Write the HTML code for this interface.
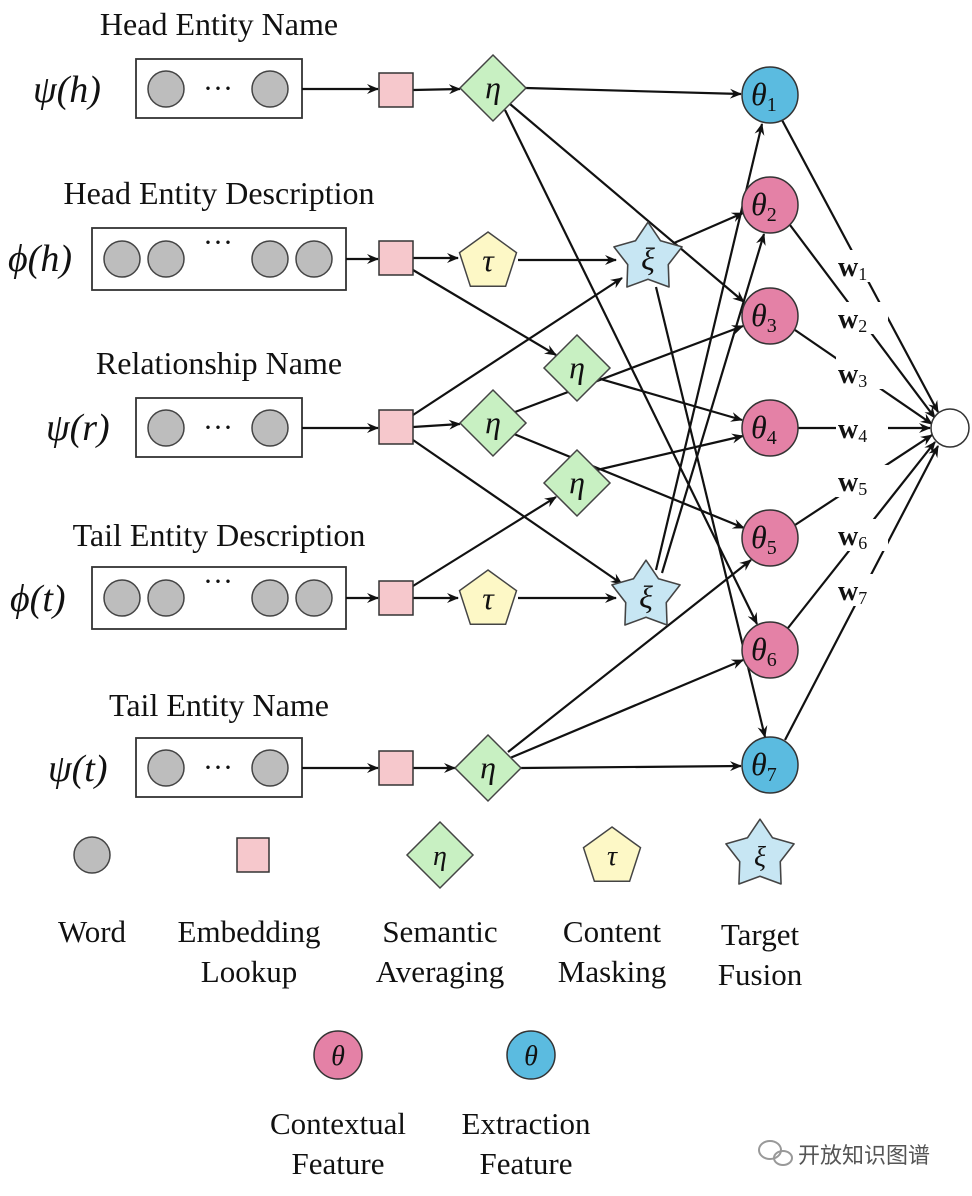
<!DOCTYPE html>
<html><head><meta charset="utf-8"><style>
html,body{margin:0;padding:0;background:#fff}
svg{display:block}
text{font-family:"Liberation Serif",serif;fill:#111}
.m{font-style:italic}
</style></head><body>
<svg width="972" height="1196" viewBox="0 0 972 1196" xmlns="http://www.w3.org/2000/svg">
<defs>
<marker id="a" markerWidth="12" markerHeight="10" refX="11" refY="5" orient="auto" markerUnits="userSpaceOnUse">
<path d="M0,0 L12,5 L0,10 L4,5 Z" fill="#111"/></marker>
<g id="dia"><polygon points="0,-33 33,0 0,33 -33,0" fill="#c8f0c2" stroke="#444" stroke-width="1.5"/></g>
<g id="pen"><polygon points="0,-30 28.5,-9.3 17.6,24.3 -17.6,24.3 -28.5,-9.3" fill="#fdf8c6" stroke="#444" stroke-width="1.5"/></g>
<g id="star"><polygon transform="scale(1.12)" points="0,-32 11.2,-15.4 30.4,-9.9 18.1,5.9 18.8,25.9 0,19 -18.8,25.9 -18.1,5.9 -30.4,-9.9 -11.2,-15.4" fill="#c7e6f3" stroke="#444" stroke-width="1.4" stroke-linejoin="round"/></g>
<g id="sq"><rect x="-17" y="-17" width="34" height="34" fill="#f6c8cc" stroke="#333" stroke-width="1.5"/></g>
<g id="wd"><circle r="18" fill="#bdbdbd" stroke="#444" stroke-width="1.5"/></g>
</defs>

<g font-size="32">
<text x="219" y="35" text-anchor="middle">Head Entity Name</text>
<text x="219" y="204" text-anchor="middle">Head Entity Description</text>
<text x="219" y="374" text-anchor="middle">Relationship Name</text>
<text x="219" y="546" text-anchor="middle">Tail Entity Description</text>
<text x="219" y="716" text-anchor="middle">Tail Entity Name</text>
</g>
<g font-size="38" class="m">
<text x="33" y="102" class="m">ψ(h)</text>
<text x="8" y="271" class="m">ϕ(h)</text>
<text x="46" y="440" class="m">ψ(r)</text>
<text x="10" y="611" class="m">ϕ(t)</text>
<text x="48" y="781" class="m">ψ(t)</text>
</g>

<g stroke="#333" stroke-width="1.8" fill="#fff">
<rect x="136" y="59" width="166" height="59"/>
<rect x="92" y="228" width="254" height="62"/>
<rect x="136" y="398" width="166" height="59"/>
<rect x="92" y="567" width="254" height="62"/>
<rect x="136" y="738" width="166" height="59"/>
</g>
<use href="#wd" x="166" y="89"/><use href="#wd" x="270" y="89"/>
<use href="#wd" x="122" y="259"/><use href="#wd" x="166" y="259"/><use href="#wd" x="270" y="259"/><use href="#wd" x="314" y="259"/>
<use href="#wd" x="166" y="428"/><use href="#wd" x="270" y="428"/>
<use href="#wd" x="122" y="598"/><use href="#wd" x="166" y="598"/><use href="#wd" x="270" y="598"/><use href="#wd" x="314" y="598"/>
<use href="#wd" x="166" y="768"/><use href="#wd" x="270" y="768"/>
<g font-size="30" text-anchor="middle">
<text x="218" y="98">···</text>
<text x="218" y="252">···</text>
<text x="218" y="437">···</text>
<text x="218" y="591">···</text>
<text x="218" y="777">···</text>
</g>

<g stroke="#111" stroke-width="2.2" marker-end="url(#a)" fill="none">
<line x1="302" y1="89" x2="378" y2="89"/>
<line x1="346" y1="259" x2="378" y2="259"/>
<line x1="302" y1="428" x2="378" y2="428"/>
<line x1="346" y1="598" x2="378" y2="598"/>
<line x1="302" y1="768" x2="378" y2="768"/>
<line x1="413" y1="90" x2="460" y2="89"/>
<line x1="526" y1="88" x2="741" y2="94"/>
<line x1="510" y1="104" x2="744" y2="302"/>
<line x1="505" y1="110" x2="757" y2="624"/>
<line x1="413" y1="258" x2="458" y2="258"/>
<line x1="518" y1="260" x2="616" y2="260"/>
<line x1="413" y1="270" x2="556" y2="355"/>
<line x1="674" y1="243" x2="743" y2="213"/>
<line x1="656" y1="287" x2="765" y2="737"/>
<line x1="413" y1="427" x2="460" y2="424"/>
<line x1="413" y1="415" x2="622" y2="278"/>
<line x1="413" y1="440" x2="622" y2="584"/>
<line x1="515" y1="412" x2="743" y2="326"/>
<line x1="514" y1="434" x2="744" y2="528"/>
<line x1="597" y1="378" x2="742" y2="420"/>
<line x1="597" y1="470" x2="743" y2="436"/>
<line x1="413" y1="586" x2="556" y2="497"/>
<line x1="413" y1="598" x2="458" y2="598"/>
<line x1="518" y1="598" x2="616" y2="598"/>
<line x1="656" y1="570" x2="762" y2="124"/>
<line x1="662" y1="573" x2="764" y2="234"/>
<line x1="413" y1="768" x2="455" y2="768"/>
<line x1="521" y1="768" x2="741" y2="766"/>
<line x1="508" y1="752" x2="751" y2="560"/>
<line x1="510" y1="758" x2="743" y2="660"/>
<line x1="782" y1="120" x2="938" y2="412"/>
<line x1="790" y1="225" x2="935" y2="418"/>
<line x1="795" y1="330" x2="932" y2="424"/>
<line x1="798" y1="428" x2="930" y2="428"/>
<line x1="795" y1="525" x2="932" y2="435"/>
<line x1="788" y1="628" x2="935" y2="442"/>
<line x1="785" y1="740" x2="938" y2="446"/>
</g>

<use href="#sq" x="396" y="90"/><use href="#sq" x="396" y="258"/><use href="#sq" x="396" y="427"/><use href="#sq" x="396" y="598"/><use href="#sq" x="396" y="768"/>
<use href="#dia" x="493" y="88"/><use href="#pen" x="488" y="262"/><use href="#dia" x="493" y="423"/><use href="#pen" x="488" y="600"/><use href="#dia" x="488" y="768"/>
<use href="#dia" x="577" y="368"/><use href="#dia" x="577" y="483"/>
<use href="#star" x="648" y="258"/><use href="#star" x="646" y="596"/>
<g font-size="32" class="m" text-anchor="middle">
<text x="493" y="98" class="m">η</text><text x="488" y="271" class="m">τ</text><text x="493" y="433" class="m">η</text><text x="488" y="609" class="m">τ</text><text x="488" y="778" class="m">η</text>
<text x="577" y="378" class="m">η</text><text x="577" y="493" class="m">η</text>
<text x="648" y="270" class="m">ξ</text><text x="646" y="608" class="m">ξ</text>
</g>
<g stroke="#333" stroke-width="1.5">
<circle cx="770" cy="95" r="28" fill="#5bbbe0"/>
<circle cx="770" cy="205" r="28" fill="#e481a6"/>
<circle cx="770" cy="316" r="28" fill="#e481a6"/>
<circle cx="770" cy="428" r="28" fill="#e481a6"/>
<circle cx="770" cy="538" r="28" fill="#e481a6"/>
<circle cx="770" cy="650" r="28" fill="#e481a6"/>
<circle cx="770" cy="765" r="28" fill="#5bbbe0"/>
<circle cx="950" cy="428" r="19" fill="#fff"/>
</g>
<g font-size="32" class="m">
<text x="751" y="105" class="m">θ<tspan font-size="20" font-style="normal" dy="6">1</tspan></text>
<text x="751" y="215" class="m">θ<tspan font-size="20" font-style="normal" dy="6">2</tspan></text>
<text x="751" y="326" class="m">θ<tspan font-size="20" font-style="normal" dy="6">3</tspan></text>
<text x="751" y="438" class="m">θ<tspan font-size="20" font-style="normal" dy="6">4</tspan></text>
<text x="751" y="548" class="m">θ<tspan font-size="20" font-style="normal" dy="6">5</tspan></text>
<text x="751" y="660" class="m">θ<tspan font-size="20" font-style="normal" dy="6">6</tspan></text>
<text x="751" y="775" class="m">θ<tspan font-size="20" font-style="normal" dy="6">7</tspan></text>
</g>

<g fill="#fff">
<rect x="836" y="250" width="52" height="32"/><rect x="836" y="302" width="52" height="32"/><rect x="836" y="357" width="52" height="32"/>
<rect x="836" y="412" width="52" height="32"/><rect x="836" y="465" width="52" height="32"/><rect x="836" y="519" width="52" height="32"/><rect x="836" y="574" width="52" height="32"/>
</g>
<g font-size="28" font-weight="bold">
<text x="838" y="276">w<tspan font-size="18" font-weight="normal" dy="4">1</tspan></text>
<text x="838" y="328">w<tspan font-size="18" font-weight="normal" dy="4">2</tspan></text>
<text x="838" y="383">w<tspan font-size="18" font-weight="normal" dy="4">3</tspan></text>
<text x="838" y="438">w<tspan font-size="18" font-weight="normal" dy="4">4</tspan></text>
<text x="838" y="491">w<tspan font-size="18" font-weight="normal" dy="4">5</tspan></text>
<text x="838" y="545">w<tspan font-size="18" font-weight="normal" dy="4">6</tspan></text>
<text x="838" y="600">w<tspan font-size="18" font-weight="normal" dy="4">7</tspan></text>
</g>

<use href="#wd" x="92" y="855"/>
<rect x="237" y="838" width="32" height="34" fill="#f6c8cc" stroke="#333" stroke-width="1.5"/>
<use href="#dia" x="440" y="855"/>
<use href="#pen" x="612" y="857"/>
<use href="#star" x="760" y="855"/>
<g font-size="28" class="m" text-anchor="middle">
<text x="440" y="865" class="m">η</text><text x="612" y="865" class="m">τ</text><text x="760" y="866" class="m">ξ</text>
</g>
<g font-size="31" text-anchor="middle">
<text x="92" y="942">Word</text>
<text x="249" y="942">Embedding</text><text x="249" y="982">Lookup</text>
<text x="440" y="942">Semantic</text><text x="440" y="982">Averaging</text>
<text x="612" y="942">Content</text><text x="612" y="982">Masking</text>
<text x="760" y="945">Target</text><text x="760" y="985">Fusion</text>
</g>
<circle cx="338" cy="1055" r="24" fill="#e481a6" stroke="#333" stroke-width="1.5"/>
<circle cx="531" cy="1055" r="24" fill="#5bbbe0" stroke="#333" stroke-width="1.5"/>
<g font-size="28" class="m" text-anchor="middle"><text x="338" y="1065" class="m">θ</text><text x="531" y="1065" class="m">θ</text></g>
<g font-size="31" text-anchor="middle">
<text x="338" y="1134">Contextual</text><text x="338" y="1174">Feature</text>
<text x="526" y="1134">Extraction</text><text x="526" y="1174">Feature</text>
</g>
<g fill="none" stroke="#999" stroke-width="2">
<ellipse cx="770" cy="1150" rx="11" ry="9"/><ellipse cx="783" cy="1158" rx="9" ry="7"/>
</g>
<text x="798" y="1163" font-size="22" style="font-family:'Liberation Sans','Noto Sans CJK SC',sans-serif;fill:#555">开放知识图谱</text>
</svg>
</body></html>
